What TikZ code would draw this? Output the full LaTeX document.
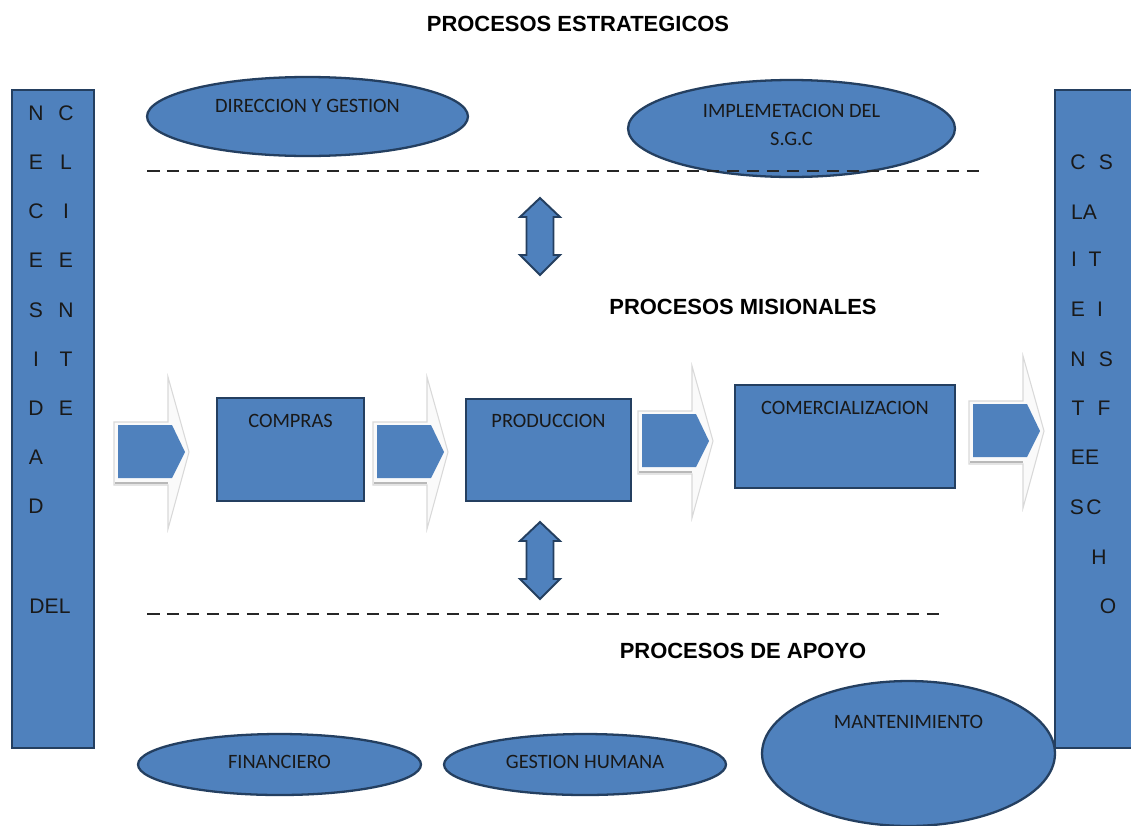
\documentclass[tikz,border=0pt]{standalone}
\usepackage{fontspec}
\setmainfont{Liberation Sans}
\newfontfamily\calibri{Carlito}
\usetikzlibrary{positioning, shapes.geometric, calc}

\definecolor{procfill}{HTML}{4F81BD}
\definecolor{procline}{HTML}{243F60}

% block arrow between the processes: left end, middle height
\newcommand{\procarrow}[2]{%
  \draw[gray!30, fill=gray!4, line width=0.6pt] (#1-4,#2-30) -- (#1+50,#2-30) -- (#1+50,#2-75) -- (#1+71,#2) -- (#1+50,#2+77) -- (#1+50,#2+33) -- (#1-4,#2+33) -- cycle;
  \fill[procfill] (#1,#2-27) -- (#1+54,#2-27) -- (#1+67,#2) -- (#1+54,#2+26) -- (#1,#2+26) -- cycle;
  \draw[gray!55, line width=1.5pt] (#1-3,#2+31) -- (#1+50,#2+31);
}
% up and down arrow: centre x, top y
\newcommand{\linkarrow}[2]{%
  \draw[procline, fill=procfill, line width=1.1pt] (#1,#2) -- ++(20,19) -- ++(-6.5,0) -- ++(0,38) -- ++(6.5,0) -- ++(-20,20) -- ++(-20,-20) -- ++(6.5,0) -- ++(0,-38) -- ++(-6.5,0) -- cycle;
}

\begin{document}
\begin{tikzpicture}[x=0.02cm, y=-0.02cm,
    procbox/.style={draw=procline, fill=procfill, line width=1.6pt, rectangle, inner sep=0pt},
    procellipse/.style={draw=procline, fill=procfill, line width=1.3pt, ellipse, inner sep=0pt},
    proctext/.style={font=\calibri\fontsize{11.6}{15.9}\selectfont, text=black!90, inner sep=0pt, align=center},
    proctitle/.style={font=\fontsize{12.5}{15}\selectfont\bfseries, inner sep=0pt},
    barletter/.style={font=\fontsize{12}{14}\selectfont, text=black!90, inner sep=0pt}]
      \clip (0,0) rectangle (1131,825);
      \fill[white] (0,0) rectangle (1131,825);

      % Side bars
      \node[procbox, line width=1.3pt, minimum width=1.64cm, minimum height=13.16cm] (necesidad) at (53,419) {};
      \node[procbox, line width=1.3pt, minimum width=1.7cm, minimum height=13.16cm] (satisfecho) at (1097.5,419) {};

      \foreach \ch [count=\i] in {N,E,C,E,S,I,D,A,D}
        \node[barletter] (nec\i) at (36,{113+49.2*(\i-1)}) {\ch};
      \foreach \ch [count=\i] in {C,L,I,E,N,T,E}
        \node[barletter] (cli\i) at (66,{113+49.2*(\i-1)}) {\ch};
      \node[barletter] (del) at (50,606) {DEL};
      \foreach \ch/\x/\y [count=\i] in {C/1078/162, S/1106/162, LA/1084/212, I/1074/259, T/1095/259,
          E/1078/309, I/1100/309, N/1078/359, S/1106/359, T/1078/408, F/1104/408,
          EE/1085/457, S/1077/507, C/1094/507, H/1099/557, O/1108/606}
        \node[barletter] (sat\i) at (\x,\y) {\ch};

      % Procesos estrategicos
      \node[proctitle] (estrategicos) at (578,24) {PROCESOS ESTRATEGICOS};
      \node[procellipse, minimum width=6.42cm, minimum height=1.58cm] (direccion) at (307.5,116.5) {};
      \node[proctext] (direccionTxt) at ($(direccion)+(0,-10.5)$) {DIRECCION Y GESTION};
      \node[procellipse, minimum width=6.54cm, minimum height=1.94cm] (sgc) at (791.5,128.5) {};
      \node[proctext] (sgcTxt) at ($(sgc)+(0,-3.5)$) {IMPLEMETACION DEL\\S.G.C};
      \draw[black!85, line width=0.7pt, dash pattern=on 0.25cm off 0.15cm] (147,171) -- (980,171);
      \linkarrow{540}{198}

      % Procesos misionales
      \node[proctitle] (misionales) at (743,307) {PROCESOS MISIONALES};
      \procarrow{118}{452}
      \procarrow{377}{452}
      \procarrow{642}{441}
      \procarrow{973}{431}
      \node[procbox, minimum width=2.94cm, minimum height=2.06cm] (compras) at (290.5,449.5) {};
      \node[proctext] (comprasTxt) at ($(compras)+(0,-28.5)$) {COMPRAS};
      \node[procbox, minimum width=3.30cm, minimum height=2.04cm] (produccion) at (548.5,450) {};
      \node[proctext] (produccionTxt) at ($(produccion)+(0,-29)$) {PRODUCCION};
      \node[procbox, minimum width=4.40cm, minimum height=2.06cm] (comercial) at (845,436.5) {};
      \node[proctext] (comercialTxt) at ($(comercial)+(0,-28.5)$) {COMERCIALIZACION};
      \linkarrow{540}{522}

      % Procesos de apoyo
      \draw[black!85, line width=0.7pt, dash pattern=on 0.25cm off 0.15cm] (147,614) -- (940,614);
      \node[proctitle] (apoyo) at (743,651) {PROCESOS DE APOYO};
      \node[procellipse, minimum width=5.66cm, minimum height=1.22cm] (financiero) at (279.5,764.5) {};
      \node[proctext] (financieroTxt) at ($(financiero)+(0,-2.5)$) {FINANCIERO};
      \node[procellipse, minimum width=5.64cm, minimum height=1.22cm] (humana) at (585,764.5) {};
      \node[proctext] (humanaTxt) at ($(humana)+(0,-2.5)$) {GESTION HUMANA};
      \node[procellipse, minimum width=5.86cm, minimum height=2.9cm] (mantenimiento) at (908.5,753.5) {};
      \node[proctext] (mantenimientoTxt) at ($(mantenimiento)+(0,-31.5)$) {MANTENIMIENTO};
    \end{tikzpicture}
\end{document}
